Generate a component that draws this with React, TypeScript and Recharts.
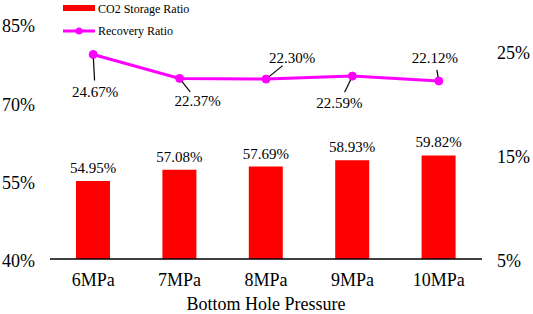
import React from "react";
import {
  ComposedChart,
  Bar,
  Line,
  XAxis,
  YAxis,
  LabelList,
} from "recharts";

const pressures = ["6MPa", "7MPa", "8MPa", "9MPa", "10MPa"];
const storageRatio = [54.95, 57.08, 57.69, 58.93, 59.82];
const recoveryRatio = [24.67, 22.37, 22.3, 22.59, 22.12];
const leftTicks = [40, 55, 70, 85];
const rightTicks = [5, 15, 25];

// where each recovery label sits relative to its point: [dx, dy] of text centre
const recoveryLabelOffsets: [number, number][] = [
  [2, 38],
  [18, 23],
  [26, -21],
  [-13, 27],
  [-4, -23],
];

const FONT = "'Liberation Serif', 'Times New Roman', serif";
const txt = (size: number) => ({ fontFamily: FONT, fontSize: size, fill: "#000" });

const data = pressures.map((p, i) => ({
  name: p,
  storage: storageRatio[i],
  recovery: recoveryRatio[i],
}));

function RecoveryLabel(props: any) {
  const { x, y, index, value } = props;
  const [dx, dy] = recoveryLabelOffsets[index];
  const tx = x + dx;
  const ty = y + dy;
  // leader line from near the point toward the text
  const len = Math.hypot(dx, dy);
  const ux = dx / len;
  const uy = dy / len;
  return (
    <g>
      <line
        x1={x + ux * 4}
        y1={y + uy * 4}
        x2={tx - ux * 12}
        y2={ty - uy * 12}
        stroke="#000"
        strokeWidth={1.2}
      />
      <text x={tx} y={ty} textAnchor="middle" dominantBaseline="central" style={txt(15)}>
        {`${Number(value).toFixed(2)}%`}
      </text>
    </g>
  );
}

function LegendBox() {
  return (
    <svg width={140} height={42} style={{ position: "absolute", left: 63, top: 0 }}>
      <rect x={0} y={5} width={32} height={6} fill="#ff0000" />
      <text x={35} y={9} dominantBaseline="central" style={txt(12)}>
        CO2 Storage Ratio
      </text>
      <line x1={0} y1={31} x2={32} y2={31} stroke="#ff00ff" strokeWidth={3} />
      <circle cx={16} cy={31} r={3.5} fill="#ff00ff" />
      <text x={35} y={31} dominantBaseline="central" style={txt(12)}>
        Recovery Ratio
      </text>
    </svg>
  );
}

export default function App() {
  return (
    <div style={{ position: "absolute", left: 0, top: 0, width: 533, height: 314, background: "#fff" }}>
      <ComposedChart
        width={533}
        height={314}
        data={data}
        margin={{ top: 24, right: 0, left: 0, bottom: 0 }}
        barCategoryGap={0}
      >
        <XAxis
          dataKey="name"
          height={55}
          tickLine={false}
          tickSize={0}
          tickMargin={14}
          axisLine={{ stroke: "#000", strokeWidth: 1.5 }}
          tick={txt(18)}
          label={(p: any) => {
            const vb = p.viewBox;
            return (
              <text
                x={vb.x + vb.width / 2}
                y={304}
                textAnchor="middle"
                dominantBaseline="central"
                style={txt(18)}
              >
                Bottom Hole Pressure
              </text>
            );
          }}
        />
        <YAxis
          yAxisId="left"
          width={50}
          domain={[40, 85]}
          ticks={leftTicks}
          axisLine={false}
          tickLine={false}
          tickSize={0}
          tickMargin={15}
          tickFormatter={(v) => `${v}%`}
          tick={{ ...txt(18), dy: 2 }}
          allowDataOverflow
        />
        <YAxis
          yAxisId="right"
          orientation="right"
          width={51}
          domain={[5, 27.6]}
          ticks={rightTicks}
          axisLine={false}
          tickLine={false}
          tickSize={0}
          tickMargin={15}
          tickFormatter={(v) => `${v}%`}
          tick={{ ...txt(18), dy: 2 }}
          allowDataOverflow
        />
        <Bar
          yAxisId="left"
          dataKey="storage"
          fill="#ff0000"
          barSize={34}
          isAnimationActive={false}
        >
          <LabelList
            dataKey="storage"
            position="top"
            offset={8}
            formatter={(v: any) => `${Number(v).toFixed(2)}%`}
            style={txt(15)}
          />
        </Bar>
        <Line
          yAxisId="right"
          dataKey="recovery"
          stroke="#ff00ff"
          strokeWidth={3}
          dot={{ r: 4, fill: "#ff00ff", stroke: "#ff00ff", strokeWidth: 1 }}
          isAnimationActive={false}
        >
          <LabelList dataKey="recovery" content={<RecoveryLabel />} />
        </Line>
      </ComposedChart>
      <LegendBox />
    </div>
  );
}
